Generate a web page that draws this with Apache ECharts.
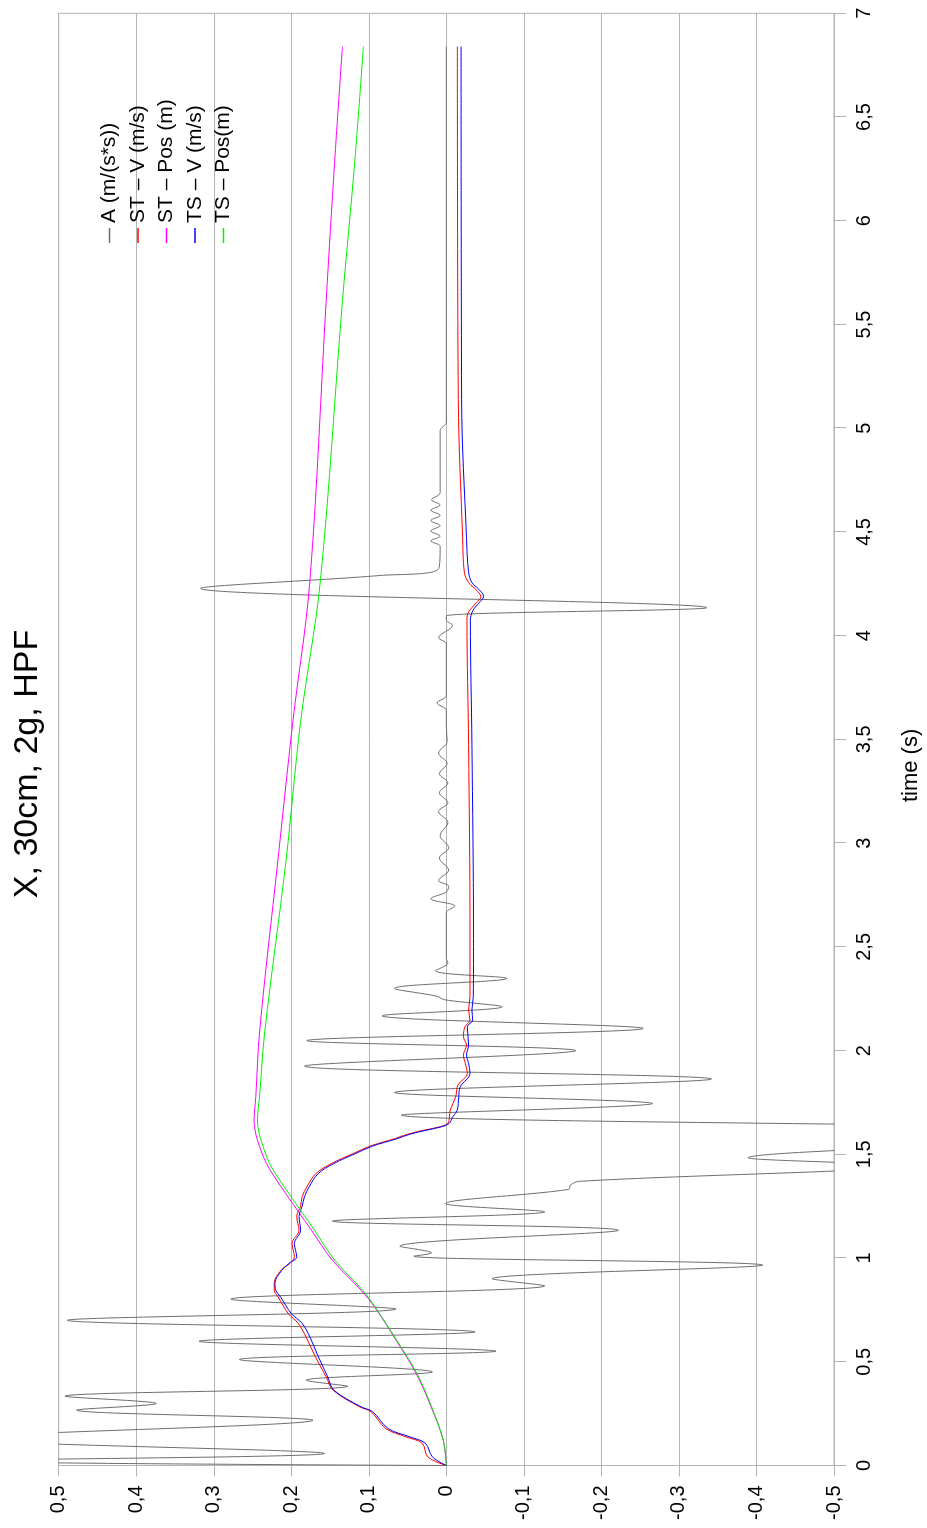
<!DOCTYPE html>
<html>
<head>
<meta charset="utf-8">
<script src="https://cdn.jsdelivr.net/npm/echarts@6/dist/echarts.min.js"></script>
<style>
  html, body { margin: 0; padding: 0; background: #fff; overflow: hidden; }
  body { width: 927px; height: 1528px; position: relative; }
  /* The chart is laid out landscape and turned a quarter turn counter-clockwise */
  #chart {
    position: absolute; left: 0; top: 0;
    width: 1528px; height: 927px;
    transform-origin: 0 0;
    transform: translate(0, 1528px) rotate(-90deg);
  }
</style>
</head>
<body>
<div id="chart"></div>
<script>
// [time (s), value] pairs for each recorded channel
const accelA = [
  [0.000, 0.000], [0.022, 0.62], [0.058, 0.157], [0.130, 0.62], [0.218, 0.172],
  [0.267, 0.477], [0.299, 0.374], [0.334, 0.492], [0.382, 0.127], [0.411, 0.181],
  [0.451, 0.018], [0.511, 0.267], [0.551, -0.064], [0.599, 0.319], [0.644, -0.037],
  [0.700, 0.489], [0.754, 0.065], [0.802, 0.278], [0.866, -0.127], [0.900, -0.059],
  [0.966, -0.408], [1.009, 0.042], [1.025, 0.019], [1.057, 0.060], [1.134, -0.222],
  [1.178, 0.147], [1.223, -0.127], [1.263, 0.001], [1.331, -0.158], [1.352, -0.160],
  [1.370, -0.172], [1.445, -0.58], [1.483, -0.389], [1.600, -1.00], [1.689, 0.058],
  [1.745, -0.266], [1.798, 0.067], [1.863, -0.342], [1.925, 0.183], [2.000, -0.167],
  [2.048, 0.180], [2.107, -0.254], [2.168, 0.083], [2.211, -0.072], [2.245, 0.002],
  [2.262, 0.012], [2.300, 0.067], [2.348, -0.078], [2.385, 0.014], [2.423, -0.002],
  [2.445, 0.000], [2.665, 0.000], [2.696, -0.011], [2.732, 0.020], [2.765, 0.000],
  [2.792, -0.003], [2.820, 0.010], [2.870, -0.003], [2.928, 0.009], [2.978, -0.003],
  [3.036, 0.008], [3.100, -0.002], [3.152, 0.010], [3.195, -0.002], [3.243, 0.009],
  [3.290, -0.002], [3.335, 0.009], [3.385, -0.001], [3.434, 0.010], [3.490, -0.001],
  [3.560, 0.000], [3.640, 0.000], [3.676, 0.012], [3.712, 0.000], [3.960, 0.000],
  [3.990, 0.010], [4.050, -0.008], [4.075, 0.000], [4.095, 0.000], [4.135, -0.336],
  [4.228, 0.317], [4.290, 0.086], [4.323, 0.010], [4.430, 0.008], [4.456, 0.020],
  [4.480, 0.008], [4.505, 0.020], [4.530, 0.008], [4.555, 0.020], [4.580, 0.008],
  [4.605, 0.020], [4.630, 0.008], [4.655, 0.019], [4.690, 0.008], [4.987, 0.008],
  [5.030, 0.000], [6.840, 0.000]
];

const stVel = [
  [0, 0], [0.042, 0.024], [0.107, 0.031], [0.138, 0.052], [0.178, 0.078],
  [0.259, 0.097], [0.283, 0.112], [0.363, 0.146], [0.427, 0.155], [0.532, 0.170],
  [0.620, 0.181], [0.685, 0.191], [0.733, 0.204], [0.813, 0.217], [0.845, 0.222],
  [0.878, 0.222], [0.942, 0.213], [0.974, 0.202], [1.006, 0.196], [1.070, 0.199],
  [1.134, 0.190], [1.200, 0.193], [1.250, 0.188], [1.295, 0.186], [1.343, 0.180],
  [1.408, 0.168], [1.456, 0.148], [1.504, 0.120], [1.540, 0.098], [1.575, 0.067],
  [1.597, 0.050], [1.617, 0.028], [1.633, 0.008], [1.650, -0.002], [1.680, -0.004],
  [1.713, -0.005], [1.777, -0.012], [1.834, -0.015], [1.890, -0.027], [1.938, -0.0245],
  [1.978, -0.022], [2.027, -0.026], [2.067, -0.022], [2.115, -0.024], [2.147, -0.0305],
  [2.195, -0.0287], [2.259, -0.0305], [2.420, -0.0305], [2.582, -0.0305], [3.476, -0.0287],
  [4.074, -0.0266], [4.099, -0.027], [4.157, -0.038], [4.187, -0.0446], [4.223, -0.038],
  [4.256, -0.0287], [4.306, -0.0232], [4.473, -0.021], [5.137, -0.0154], [6.840, -0.0142]
];

const stPos = [
  [0, 0], [0.122, 0.004], [0.283, 0.0197], [0.444, 0.039], [0.604, 0.0648],
  [0.765, 0.0927], [0.845, 0.110], [0.990, 0.147], [1.134, 0.174], [1.230, 0.192],
  [1.343, 0.213], [1.456, 0.232], [1.568, 0.2436], [1.617, 0.2467], [1.665, 0.248],
  [1.777, 0.2458], [2.099, 0.2407], [2.909, 0.2175], [3.585, 0.198], [4.264, 0.176],
  [5.614, 0.155], [6.290, 0.144], [6.840, 0.134]
];

const tsVel = [
  [0, 0], [0.042, 0.018], [0.107, 0.027], [0.138, 0.047], [0.178, 0.075],
  [0.259, 0.095], [0.283, 0.110], [0.363, 0.145], [0.427, 0.153], [0.532, 0.166],
  [0.620, 0.176], [0.685, 0.186], [0.733, 0.200], [0.813, 0.214], [0.845, 0.220],
  [0.878, 0.221], [0.942, 0.212], [0.974, 0.203], [1.006, 0.193], [1.070, 0.196],
  [1.134, 0.188], [1.200, 0.190], [1.250, 0.186], [1.295, 0.183], [1.343, 0.177],
  [1.408, 0.165], [1.456, 0.145], [1.504, 0.117], [1.540, 0.095], [1.575, 0.064],
  [1.597, 0.047], [1.617, 0.025], [1.633, 0.006], [1.650, -0.004], [1.680, -0.008],
  [1.713, -0.014], [1.777, -0.016], [1.826, -0.018], [1.890, -0.0305], [1.938, -0.0287],
  [1.978, -0.026], [2.027, -0.0287], [2.115, -0.027], [2.147, -0.034], [2.195, -0.033],
  [2.259, -0.0347], [2.420, -0.035], [2.582, -0.035], [3.476, -0.033], [4.074, -0.031],
  [4.120, -0.034], [4.157, -0.042], [4.190, -0.048], [4.223, -0.042], [4.256, -0.033],
  [4.306, -0.0287], [4.473, -0.026], [5.137, -0.0197], [6.840, -0.019]
];

const tsPos = [
  [0, 0], [0.122, 0.004], [0.283, 0.019], [0.444, 0.038], [0.604, 0.064],
  [0.765, 0.092], [0.845, 0.108], [0.990, 0.144], [1.134, 0.170], [1.230, 0.188],
  [1.343, 0.209], [1.456, 0.228], [1.568, 0.239], [1.617, 0.2424], [1.665, 0.2436],
  [1.777, 0.241], [2.099, 0.234], [2.909, 0.207], [3.585, 0.188], [4.264, 0.1625],
  [5.614, 0.134], [6.290, 0.118], [6.840, 0.107]
];

const seriesNames = ['A (m/(s*s))', 'ST \u2013 V (m/s)', 'ST \u2013 Pos (m)', 'TS \u2013 V (m/s)', 'TS \u2013 Pos(m)'];
const seriesColors = ['#6e6e6e', '#ff0000', '#ff00ff', '#0000ff', '#00f000'];
const seriesData = [accelA, stVel, stPos, tsVel, tsPos];

const FONT = "'Liberation Sans', Arial, Helvetica, sans-serif";
const GRID_GRAY = '#b4b4b4';
const commaNum = v => {
  const r = Math.round(v * 10) / 10;
  return (r === 0 ? '0' : String(r)).replace('.', ',');
};

const chart = echarts.init(document.getElementById('chart'), null, { renderer: 'canvas' });

chart.setOption({
  animation: false,
  backgroundColor: '#fff',
  textStyle: { fontFamily: FONT },
  title: {
    text: 'X, 30cm, 2g, HPF',
    left: 'center',
    top: 6,
    textStyle: { fontFamily: FONT, fontSize: 34, fontWeight: 'normal', color: '#000' }
  },
  legend: {
    orient: 'vertical',
    left: 1280,
    top: 94,
    itemWidth: 15,
    itemHeight: 1.5,
    itemGap: 7.5,
    icon: 'rect',
    textStyle: { fontFamily: FONT, fontSize: 21, lineHeight: 21, color: '#000' },
    data: seriesNames
  },
  grid: {
    left: 62.5, right: 13.3, top: 58.7, bottom: 91.3,
    show: true, borderColor: GRID_GRAY, borderWidth: 1, containLabel: false
  },
  xAxis: {
    type: 'value',
    min: 0, max: 7, interval: 0.5,
    name: 'time (s)',
    nameLocation: 'middle',
    nameGap: 66,
    nameTextStyle: { fontFamily: FONT, fontSize: 22, color: '#000', padding: [0, 52, 0, 0] },
    axisLine: { show: true, onZero: false, lineStyle: { color: GRID_GRAY, width: 1 } },
    axisTick: { show: true, length: 12, lineStyle: { color: GRID_GRAY } },
    axisLabel: { fontFamily: FONT, fontSize: 20, color: '#000', margin: 20, formatter: commaNum },
    splitLine: { show: false }
  },
  yAxis: {
    type: 'value',
    min: -0.5, max: 0.5, interval: 0.1,
    axisLine: { show: true, onZero: false, lineStyle: { color: GRID_GRAY, width: 1 } },
    axisTick: { show: true, length: 11, lineStyle: { color: GRID_GRAY } },
    axisLabel: { fontFamily: FONT, fontSize: 20, color: '#000', margin: 20, formatter: commaNum },
    splitLine: { show: true, lineStyle: { color: GRID_GRAY, width: 1 } }
  },
  series: seriesNames.map((name, i) => ({
    name,
    type: 'line',
    data: seriesData[i],
    showSymbol: false,
    symbol: 'none',
    smooth: 0.35,
    clip: true,
    color: seriesColors[i],
    lineStyle: { color: seriesColors[i], width: 1 },
    z: i === 0 ? 1 : 2 + i
  }))
});
</script>
</body>
</html>
